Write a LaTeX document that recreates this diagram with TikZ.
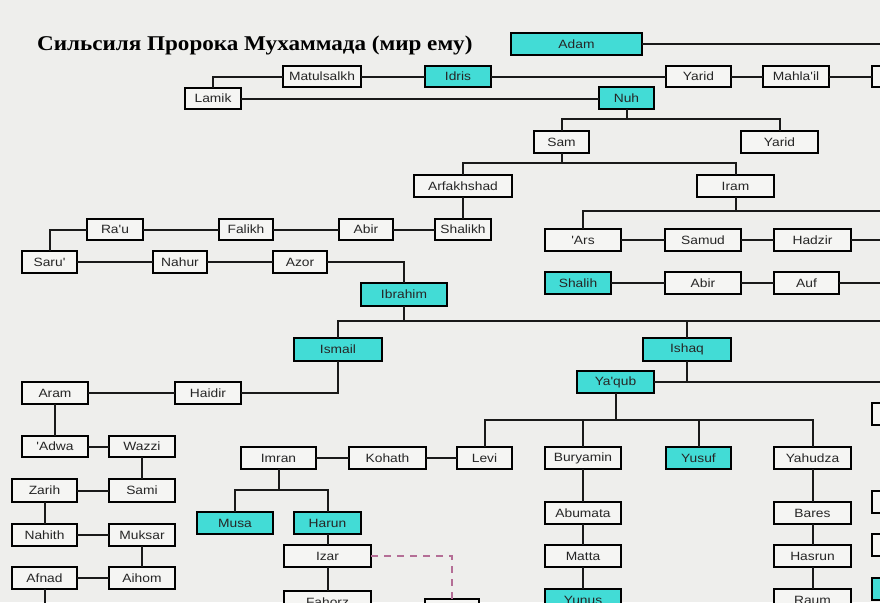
\documentclass[tikz,border=0pt]{standalone}
\usepackage{fontspec}
\newfontfamily\boxfont[FakeStretch=1.15]{Liberation Sans}
\newfontfamily\titlefont[FakeStretch=1.10]{Liberation Serif}
\definecolor{bgcol}{RGB}{238,238,236}
\definecolor{boxwhite}{RGB}{245,245,243}
\definecolor{boxcyan}{RGB}{66,220,214}
\definecolor{dashpink}{RGB}{180,110,150}
\tikzset{
  basebox/.style={draw=black, line width=1.3pt, inner sep=0pt, outer sep=0pt,
    font=\boxfont\fontsize{12}{12}\selectfont, text=black!85},
  wbox/.style={basebox, fill=boxwhite},
  cbox/.style={basebox, fill=boxcyan},
  link/.style={line width=2pt, black!90},
  dlink/.style={line width=2pt, dashpink, dash pattern=on 7pt off 6pt}
}
\newcommand\gbox[7]{\node[#1, minimum width={#5pt-#3pt}, minimum height={#6pt-#4pt}] (#2) at ({(#3+#5)/2},{(#4+#6)/2}) {#7};}
\begin{document}
\begin{tikzpicture}[x=1pt,y=-1pt]
\useasboundingbox (0,0) rectangle (880,602);
\clip (0,0) rectangle (880,602);
\fill[bgcol] (0,0) rectangle (880,602);
\node[anchor=base west, inner sep=0pt, font=\titlefont\bfseries\fontsize{21}{21}\selectfont] (title) at (37,51) {Сильсиля Пророка Мухаммада (мир ему)};
% boxes
\gbox{cbox}{adam}{511}{33}{642}{55}{Adam}
\gbox{wbox}{matul}{283}{66}{361}{87}{Matulsalkh}
\gbox{cbox}{idris}{425}{66}{491}{87}{Idris}
\gbox{wbox}{yarida}{666}{66}{731}{87}{Yarid}
\gbox{wbox}{mahlail}{763}{66}{829}{87}{Mahla'il}
\gbox{wbox}{rba}{872}{66}{910}{87}{}
\gbox{wbox}{lamik}{185}{88}{241}{109}{Lamik}
\gbox{cbox}{nuh}{599}{87}{654}{109}{Nuh}
\gbox{wbox}{sam}{534}{131}{589}{153}{Sam}
\gbox{wbox}{yaridb}{741}{131}{818}{153}{Yarid}
\gbox{wbox}{arfa}{414}{175}{512}{197}{Arfakhshad}
\gbox{wbox}{iram}{697}{175}{774}{197}{Iram}
\gbox{wbox}{shalikh}{435}{219}{491}{240}{Shalikh}
\gbox{wbox}{abira}{339}{219}{393}{240}{Abir}
\gbox{wbox}{falikh}{219}{219}{273}{240}{Falikh}
\gbox{wbox}{rau}{87}{219}{143}{240}{Ra'u}
\gbox{wbox}{saru}{22}{251}{77}{273}{Saru'}
\gbox{wbox}{nahur}{153}{251}{207}{273}{Nahur}
\gbox{wbox}{azor}{273}{251}{327}{273}{Azor}
\gbox{wbox}{ars}{545}{229}{621}{251}{'Ars}
\gbox{wbox}{samud}{665}{229}{741}{251}{Samud}
\gbox{wbox}{hadzir}{774}{229}{851}{251}{Hadzir}
\gbox{cbox}{shalih}{545}{272}{611}{294}{Shalih}
\gbox{wbox}{abirb}{665}{272}{741}{294}{Abir}
\gbox{wbox}{auf}{774}{272}{839}{294}{Auf}
\gbox{cbox}{ibrahim}{361}{283}{447}{306}{Ibrahim}
\gbox{cbox}{ismail}{294}{338}{382}{361}{Ismail}
\gbox{cbox}{ishaq}{643}{338}{731}{361}{Ishaq}
\gbox{cbox}{yaqub}{577}{371}{654}{393}{Ya'qub}
\gbox{wbox}{haidir}{175}{382}{241}{404}{Haidir}
\gbox{wbox}{aram}{22}{382}{88}{404}{Aram}
\gbox{wbox}{adwa}{22}{436}{88}{457}{'Adwa}
\gbox{wbox}{wazzi}{109}{436}{175}{457}{Wazzi}
\gbox{wbox}{zarih}{12}{479}{77}{502}{Zarih}
\gbox{wbox}{sami}{109}{479}{175}{502}{Sami}
\gbox{wbox}{nahith}{12}{524}{77}{546}{Nahith}
\gbox{wbox}{muksar}{109}{524}{175}{546}{Muksar}
\gbox{wbox}{afnad}{12}{567}{77}{589}{Afnad}
\gbox{wbox}{aihom}{109}{567}{175}{589}{Aihom}
\gbox{wbox}{imran}{241}{447}{316}{469}{Imran}
\gbox{wbox}{kohath}{349}{447}{426}{469}{Kohath}
\gbox{wbox}{levi}{457}{447}{512}{469}{Levi}
\gbox{wbox}{buryamin}{545}{447}{621}{469}{Buryamin}
\gbox{cbox}{yusuf}{666}{447}{731}{469}{Yusuf}
\gbox{wbox}{yahudza}{774}{447}{851}{469}{Yahudza}
\gbox{cbox}{musa}{197}{512}{273}{534}{Musa}
\gbox{cbox}{harun}{294}{512}{361}{534}{Harun}
\gbox{wbox}{izar}{284}{545}{371}{567}{Izar}
\gbox{wbox}{fahorz}{284}{591}{371}{613}{Fahorz}
\gbox{wbox}{hidden}{425}{599}{479}{621}{}
\gbox{wbox}{abumata}{545}{502}{621}{524}{Abumata}
\gbox{wbox}{matta}{545}{545}{621}{567}{Matta}
\gbox{cbox}{yunus}{545}{589}{621}{611}{Yunus}
\gbox{wbox}{bares}{774}{502}{851}{524}{Bares}
\gbox{wbox}{hasrun}{774}{545}{851}{567}{Hasrun}
\gbox{wbox}{raum}{774}{589}{851}{611}{Raum}
\gbox{wbox}{rbb}{872}{403}{910}{425}{}
\gbox{wbox}{rbc}{872}{491}{910}{513}{}
\gbox{wbox}{rbd}{872}{534}{910}{556}{}
\gbox{cbox}{rbe}{872}{578}{910}{600}{}
% coordinates
\coordinate (e0) at (890,44);
\coordinate (nh) at (626.5,119);
\coordinate (sm) at (561.5,163);
\coordinate (ir) at (735.5,211);
\coordinate (e3) at (890,211);
\coordinate (e4) at (890,240);
\coordinate (e5) at (890,283);
\coordinate (ib) at (404,321);
\coordinate (e6) at (890,321);
\coordinate (e7) at (890,382);
\coordinate (yq) at (615.5,420);
\coordinate (im) at (278.5,490);
\coordinate (afd) at (44.5,610);
% connectors
\draw[link] (adam) -- (e0);
\draw[link] (lamik.north) |- (matul.west);
\draw[link] (matul) -- (idris);
\draw[link] (idris) -- (yarida);
\draw[link] (yarida) -- (mahlail);
\draw[link] (mahlail) -- (rba);
\draw[link] (lamik.east) -- (lamik.east -| nuh.west);
\draw[link] (nuh.south) -- (nh);
\draw[link] (sam.north) |- (nh) -| (yaridb.north);
\draw[link] (sam.south) -- (sm);
\draw[link] (arfa.north) |- (sm) -| (iram.north);
\draw[link] (arfa) -- (shalikh);
\draw[link] (iram.south) -- (ir);
\draw[link] (ars.north) |- (e3);
\draw[link] (ars) -- (samud);
\draw[link] (samud) -- (hadzir);
\draw[link] (hadzir.east) -- (e4);
\draw[link] (shalih) -- (abirb);
\draw[link] (abirb) -- (auf);
\draw[link] (auf.east) -- (e5);
\draw[link] (shalikh) -- (abira);
\draw[link] (abira) -- (falikh);
\draw[link] (falikh) -- (rau);
\draw[link] (saru.north) |- (rau.west);
\draw[link] (saru) -- (nahur);
\draw[link] (nahur) -- (azor);
\draw[link] (azor.east) -| (ibrahim.north);
\draw[link] (ibrahim.south) -- (ib);
\draw[link] (ismail.north) |- (e6);
\draw[link] (ishaq.north) -- (ishaq.north |- e6);
\draw[link] (ismail.south) |- (haidir.east);
\draw[link] (haidir) -- (aram);
\draw[link] (aram) -- (adwa);
\draw[link] (adwa) -- (wazzi);
\draw[link] (wazzi) -- (sami);
\draw[link] (sami) -- (zarih);
\draw[link] (zarih) -- (nahith);
\draw[link] (nahith) -- (muksar);
\draw[link] (muksar) -- (aihom);
\draw[link] (aihom) -- (afnad);
\draw[link] (afnad.south) -- (afd);
\draw[link] (ishaq.south) -- (ishaq.south |- yaqub.east);
\draw[link] (yaqub.east) -- (e7);
\draw[link] (yaqub.south) -- (yq);
\draw[link] (levi.north) |- (yq) -| (yahudza.north);
\draw[link] (buryamin.north) -- (buryamin.north |- yq);
\draw[link] (yusuf.north) -- (yusuf.north |- yq);
\draw[link] (imran) -- (kohath);
\draw[link] (kohath) -- (levi);
\draw[link] (imran.south) -- (im);
\draw[link] (musa.north) |- (im) -| (harun.north);
\draw[link] (harun) -- (izar);
\draw[link] (izar) -- (fahorz);
\draw[dlink] (izar.east) -| ([yshift=-9pt]hidden.north);
\draw[link] (buryamin) -- (abumata);
\draw[link] (abumata) -- (matta);
\draw[link] (matta) -- (yunus);
\draw[link] (yahudza) -- (bares);
\draw[link] (bares) -- (hasrun);
\draw[link] (hasrun) -- (raum);
\end{tikzpicture}
\end{document}
